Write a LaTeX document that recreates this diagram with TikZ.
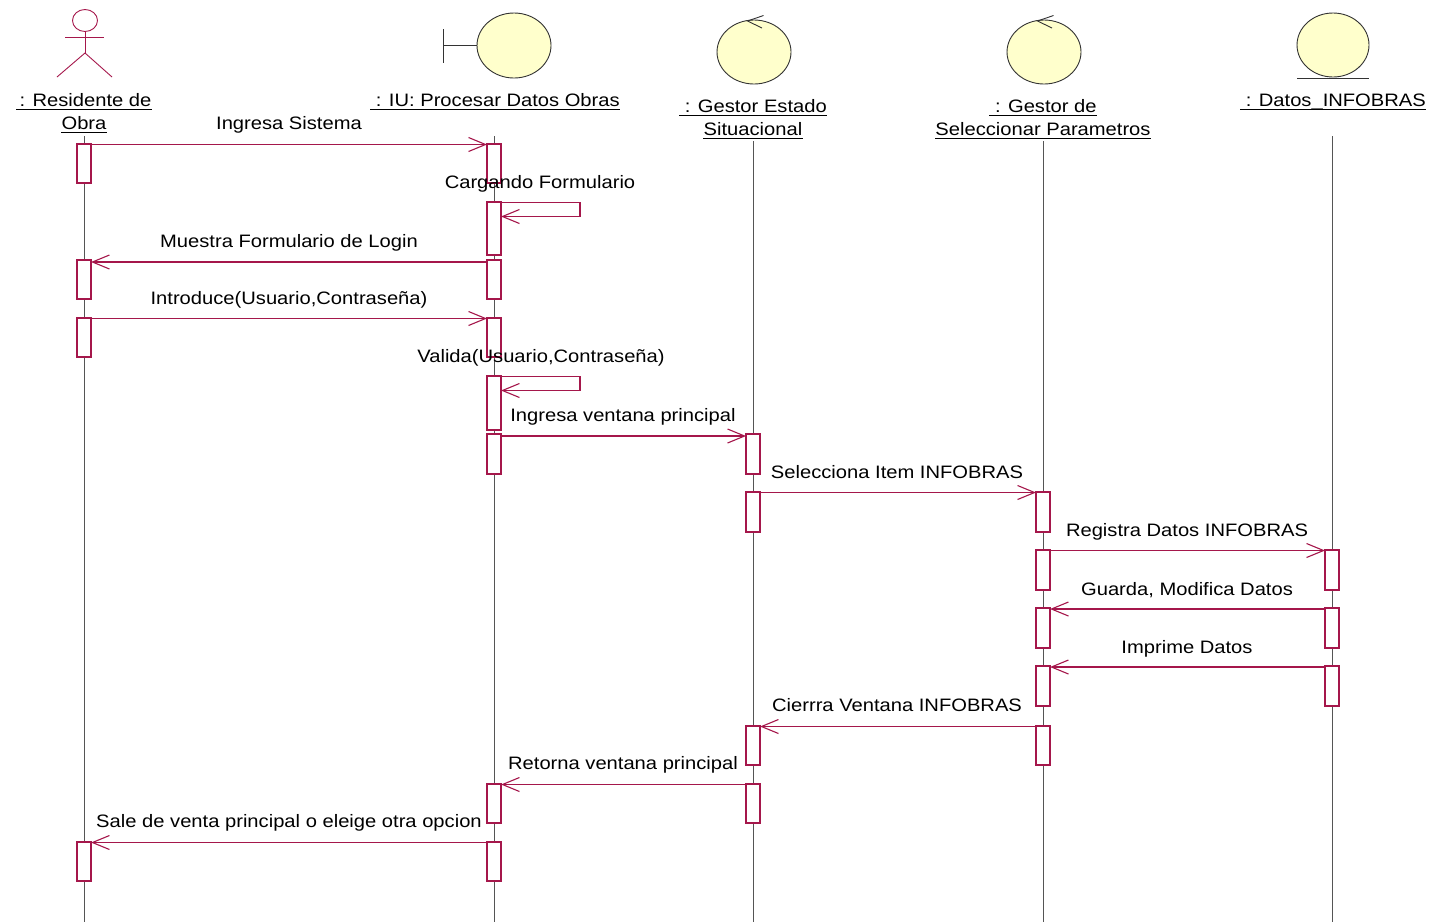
\documentclass[tikz,border=0pt]{standalone}
\usepackage{fontspec}
\setmainfont{Liberation Sans}[FakeStretch=1.12]
\usetikzlibrary{arrows.meta}
\definecolor{crim}{HTML}{A5174B}
\definecolor{lifegray}{HTML}{555555}
\definecolor{iconfill}{HTML}{FFFFCC}
\definecolor{iconline}{HTML}{333333}
\begin{document}
\begin{tikzpicture}[x=1pt,y=-1pt,
  act/.style={draw=crim, fill=white, line width=1.1pt, minimum width=14pt, inner sep=0pt, outer sep=0pt},
  msg/.style={draw=crim, line width=1.1pt, -{Straight Barb[length=17pt,width=14pt,line width=1.1pt]}},
  selfl/.style={draw=crim, line width=1.1pt},
  life/.style={draw=lifegray, line width=0.8pt},
  lbl/.style={anchor=base, inner sep=0pt, font=\fontsize{18}{22}\selectfont},
  hdr/.style={anchor=base, inner sep=0pt, font=\fontsize{18}{22}\selectfont},
  uln/.style={draw=black, line width=0.9pt},
  icon/.style={draw=iconline, fill=iconfill, line width=0.9pt},
  iconl/.style={draw=iconline, line width=0.9pt}
]
\useasboundingbox (0,0) rectangle (1439,922);
\fill[white] (0,0) rectangle (1439,922);

% ---------- icons ----------
% actor
\draw[draw=crim, line width=0.9pt] (85,20.5) circle[x radius=12.5, y radius=11];
\draw[draw=crim, line width=0.9pt] (85,31.5) -- (85,53);
\draw[draw=crim, line width=0.9pt] (65,37.5) -- (104,37.5);
\draw[draw=crim, line width=0.9pt] (57,77) -- (85,53) -- (112,77);
% boundary
\draw[icon] (514,45.5) ellipse[x radius=37, y radius=32.5];
\draw[iconl] (443,29) -- (443,63);
\draw[iconl] (443,45.5) -- (477,45.5);
% controls
\draw[icon] (754,52) ellipse[x radius=37, y radius=32];
\draw[iconl] (763.5,15.5) -- (747.5,21) -- (762,28);
\draw[icon] (1044,52) ellipse[x radius=37, y radius=32];
\draw[iconl] (1053.5,15.5) -- (1037.5,21) -- (1052,28);
% entity
\draw[icon] (1333,45) ellipse[x radius=36, y radius=32];
\draw[iconl] (1297,78) -- (1369,78);

% ---------- headers ----------
\node[hdr] (h1a) at (84,106) {\,: Residente de\ };
\node[hdr] (h1b) at (84,129) {Obra};
\node[hdr] (h2) at (495,106) {\ : IU: Procesar Datos Obras};
\node[hdr] (h3a) at (753,112) {\ : Gestor Estado\ };
\node[hdr] (h3b) at (753,135) {Situacional};
\node[hdr] (h4a) at (1043,112) {\ : Gestor de\ };
\node[hdr] (h4b) at (1043,135) {Seleccionar Parametros};
\node[hdr] (h5) at (1333,106) {\ : Datos\_INFOBRAS};
\foreach \n in {h1a,h1b,h2,h3a,h3b,h4a,h4b,h5}
  \draw[uln] ([yshift=-3.2pt]\n.base west) -- ([yshift=-3.2pt]\n.base east);

% ---------- lifelines ----------
\coordinate (L1t) at (84,136);   \coordinate (L1b) at (84,922);
\coordinate (L2t) at (494,136);  \coordinate (L2b) at (494,922);
\coordinate (L3t) at (753,141);  \coordinate (L3b) at (753,922);
\coordinate (L4t) at (1043,141); \coordinate (L4b) at (1043,922);
\coordinate (L5t) at (1332,136); \coordinate (L5b) at (1332,922);
\draw[life] (L1t) -- (L1b);
\draw[life] (L2t) -- (L2b);
\draw[life] (L3t) -- (L3b);
\draw[life] (L4t) -- (L4b);
\draw[life] (L5t) -- (L5b);

% ---------- activation boxes ----------
% Residente
\node[act, minimum height=39pt] (a1) at (84,163.5) {};
\node[act, minimum height=39pt] (a2) at (84,279.5) {};
\node[act, minimum height=39pt] (a3) at (84,337.5) {};
\node[act, minimum height=39pt] (a4) at (84,861.5) {};
% IU
\node[act, minimum height=39pt] (b1) at (494,163.5) {};
\node[act, minimum height=53pt] (b2) at (494,228.5) {};
\node[act, minimum height=39pt] (b3) at (494,279.5) {};
\node[act, minimum height=39pt] (b4) at (494,337.5) {};
\node[act, minimum height=54pt] (b5) at (494,403) {};
\node[act, minimum height=40pt] (b6) at (494,454) {};
\node[act, minimum height=39pt] (b7) at (494,803.5) {};
\node[act, minimum height=39pt] (b8) at (494,861.5) {};
% Gestor Estado
\node[act, minimum height=40pt] (c1) at (753,454) {};
\node[act, minimum height=40pt] (c2) at (753,512) {};
\node[act, minimum height=39pt] (c3) at (753,745.5) {};
\node[act, minimum height=39pt] (c4) at (753,803.5) {};
% Gestor Seleccionar
\node[act, minimum height=40pt] (d1) at (1043,512) {};
\node[act, minimum height=40pt] (d2) at (1043,570) {};
\node[act, minimum height=40pt] (d3) at (1043,628) {};
\node[act, minimum height=40pt] (d4) at (1043,686) {};
\node[act, minimum height=39pt] (d5) at (1043,745.5) {};
% Datos
\node[act, minimum height=40pt] (e1) at (1332,570) {};
\node[act, minimum height=40pt] (e2) at (1332,628) {};
\node[act, minimum height=40pt] (e3) at (1332,686) {};

% ---------- messages ----------
\draw[msg] ([yshift=-0.5pt]a1.north east) -- ([yshift=-0.5pt]b1.north west);
\draw[selfl] ([yshift=-0.5pt]b2.north east) -- ++(79,0) -- ++(0,14);
\draw[msg] ([yshift=-14.5pt,xshift=79pt]b2.north east) -- ([yshift=-14.5pt]b2.north east);
\draw[msg] ([yshift=-2pt]b3.north west) -- ([yshift=-2pt]a2.north east);
\draw[msg] ([yshift=-0.5pt]a3.north east) -- ([yshift=-0.5pt]b4.north west);
\draw[selfl] ([yshift=-0.5pt]b5.north east) -- ++(79,0) -- ++(0,14);
\draw[msg] ([yshift=-14.5pt,xshift=79pt]b5.north east) -- ([yshift=-14.5pt]b5.north east);
\draw[msg] ([yshift=-2pt]b6.north east) -- ([yshift=-2pt]c1.north west);
\draw[msg] ([yshift=-0.5pt]c2.north east) -- ([yshift=-0.5pt]d1.north west);
\draw[msg] ([yshift=-0.5pt]d2.north east) -- ([yshift=-0.5pt]e1.north west);
\draw[msg] ([yshift=-1pt]e2.north west) -- ([yshift=-1pt]d3.north east);
\draw[msg] ([yshift=-1pt]e3.north west) -- ([yshift=-1pt]d4.north east);
\draw[msg] ([yshift=-0.5pt]d5.north west) -- ([yshift=-0.5pt]c3.north east);
\draw[msg] ([yshift=-0.5pt]c4.north west) -- ([yshift=-0.5pt]b7.north east);
\draw[msg] ([yshift=-0.5pt]b8.north west) -- ([yshift=-0.5pt]a4.north east);

% ---------- labels ----------
\node[lbl] (m1) at (289,129) {Ingresa Sistema};
\node[lbl] (m2) at (540,188) {Cargando Formulario};
\node[lbl] (m3) at (289,247) {Muestra Formulario de Login};
\node[lbl] (m4) at (289,304) {Introduce(Usuario,Contraseña)};
\node[lbl] (m5) at (541,362) {Valida(Usuario,Contraseña)};
\node[lbl] (m6) at (623,421) {Ingresa ventana principal};
\node[lbl] (m7) at (897,478) {Selecciona Item INFOBRAS};
\node[lbl] (m8) at (1187,536) {Registra Datos INFOBRAS};
\node[lbl] (m9) at (1187,595) {Guarda, Modifica Datos};
\node[lbl] (m10) at (1187,653) {Imprime Datos};
\node[lbl] (m11) at (897,711) {Cierrra Ventana INFOBRAS};
\node[lbl] (m12) at (623,769) {Retorna ventana principal};
\node[lbl] (m13) at (289,827) {Sale de venta principal o eleige otra opcion};
\end{tikzpicture}
\end{document}
